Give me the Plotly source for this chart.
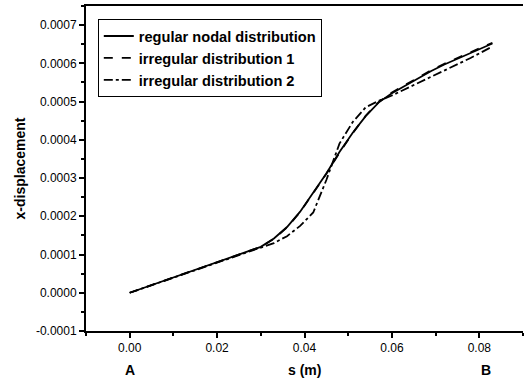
import plotly.graph_objects as go

s = [0, 0.005, 0.01, 0.015, 0.02, 0.025, 0.03, 0.033, 0.036, 0.039, 0.042, 0.045,
     0.048, 0.051, 0.054, 0.057, 0.060, 0.063, 0.066, 0.069, 0.072, 0.075, 0.078, 0.081, 0.083]

regular = [0, 0.20, 0.40, 0.60, 0.79, 0.99, 1.20, 1.42, 1.72, 2.12, 2.62, 3.12,
           3.68, 4.18, 4.62, 4.98, 5.22, 5.42, 5.62, 5.80, 5.97, 6.12, 6.28, 6.43, 6.52]
irregular1 = [0, 0.20, 0.40, 0.60, 0.79, 0.99, 1.20, 1.41, 1.71, 2.11, 2.60, 3.11,
              3.66, 4.17, 4.63, 4.99, 5.24, 5.44, 5.64, 5.82, 5.99, 6.14, 6.30, 6.45, 6.54]
irregular2 = [0, 0.20, 0.40, 0.60, 0.79, 0.99, 1.18, 1.30, 1.48, 1.75, 2.10, 2.95,
              3.90, 4.46, 4.85, 5.02, 5.16, 5.32, 5.49, 5.66, 5.82, 5.98, 6.14, 6.32, 6.44]

names = ["regular nodal distribution", "irregular distribution 1", "irregular distribution 2"]
dashes = ["solid", "dash", "dashdot"]
scale = 1e-4

x_tickvals = [0, 0.02, 0.04, 0.06, 0.08]
x_ticktext = ["0.00", "0.02", "0.04", "0.06", "0.08"]
y_tickvals = [-0.0001, 0, 0.0001, 0.0002, 0.0003, 0.0004, 0.0005, 0.0006, 0.0007]
y_ticktext = ["-0.0001", "0.0000", "0.0001", "0.0002", "0.0003", "0.0004",
              "0.0005", "0.0006", "0.0007"]

fig = go.Figure()
for name, ys, d in zip(names, [regular, irregular1, irregular2], dashes):
    fig.add_trace(go.Scatter(x=s, y=[v * scale for v in ys], mode="lines", name=name,
                             line=dict(color="black", width=1.8, dash=d)))

font = "Liberation Sans, Arial, sans-serif"
fig.update_layout(
    width=527, height=381,
    margin=dict(l=86, r=4, t=6, b=50),
    paper_bgcolor="white", plot_bgcolor="white",
    font=dict(family=font, color="black", size=12),
    showlegend=True,
    legend=dict(x=0.027, y=0.96, xanchor="left", yanchor="top",
                bordercolor="black", borderwidth=1, bgcolor="white",
                entrywidth=215, entrywidthmode="pixels",
                font=dict(size=14.6, family=font, weight="bold"), tracegroupgap=0),
    xaxis=dict(range=[-0.01, 0.09], tickvals=x_tickvals, ticktext=x_ticktext,
               showgrid=False, zeroline=False,
               showline=True, linecolor="black", linewidth=2, mirror=True,
               ticks="outside", ticklen=5, tickwidth=1.5, tickcolor="black",
               minor=dict(dtick=0.01, tick0=0, ticks="outside", ticklen=3,
                          tickwidth=1.5, tickcolor="black"),
               tickfont=dict(size=12)),
    yaxis=dict(range=[-0.0001, 0.00075], tickvals=y_tickvals, ticktext=y_ticktext,
               showgrid=False, zeroline=False,
               showline=True, linecolor="black", linewidth=2,
               ticks="outside", ticklen=5, tickwidth=1.5, tickcolor="black",
               minor=dict(dtick=0.00005, tick0=0, ticks="outside", ticklen=3,
                          tickwidth=1.5, tickcolor="black"),
               tickfont=dict(size=12),
               title=dict(text="x-displacement", font=dict(size=14, weight="bold"),
                          standoff=7)),
)

ylab = -(370 - 331) / 324
fig.add_annotation(x=0.0, y=ylab, xref="x", yref="paper", text="A", showarrow=False,
                   font=dict(size=14, weight="bold"), xanchor="center", yanchor="middle")
fig.add_annotation(x=0.0815, y=ylab, xref="x", yref="paper", text="B", showarrow=False,
                   font=dict(size=14, weight="bold"), xanchor="center", yanchor="middle")
fig.add_annotation(x=0.04, y=ylab, xref="x", yref="paper", text="s (m)", showarrow=False,
                   font=dict(size=14, weight="bold"), xanchor="center", yanchor="middle")

fig.write_html("out.html")
